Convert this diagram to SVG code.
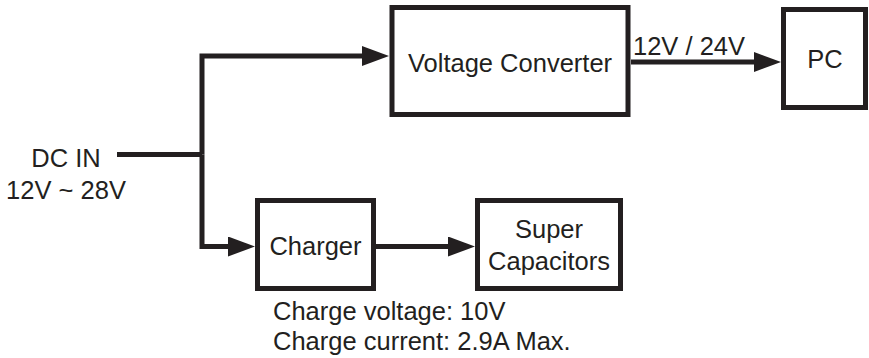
<svg xmlns="http://www.w3.org/2000/svg" width="869" height="358" viewBox="0 0 869 358">
<style>
.box{fill:#fff;stroke:#231f20;stroke-width:5}
.wire{fill:none;stroke:#231f20;stroke-width:5;stroke-linejoin:miter}
text{font-family:"Liberation Sans",Arial,sans-serif;font-size:25.5px;fill:#231f20}
.c{text-anchor:middle}
</style>
<defs>
<marker id="ah" viewBox="0 0 27 20" refX="1" refY="10" markerWidth="27" markerHeight="20" markerUnits="userSpaceOnUse" orient="auto">
<path d="M0,0 L27,10 L0,20 z" fill="#231f20"/>
</marker>
</defs>
<rect width="869" height="358" fill="#fff"/>
<g id="connectors">
<path class="wire" d="M117,154.5 H202"/>
<path class="wire" d="M202,154.5 V56 H363" marker-end="url(#ah)"/>
<path class="wire" d="M202,154.5 V246.5 H229" marker-end="url(#ah)"/>
<path class="wire" d="M376,246.5 H449" marker-end="url(#ah)"/>
<path class="wire" d="M631,62 H755" marker-end="url(#ah)"/>
<text x="633" y="55">12V / 24V</text>
</g>
<g id="dcin">
<text class="c" x="66" y="167">DC IN</text>
<text class="c" x="66" y="199">12V ~ 28V</text>
</g>
<g id="voltage-converter">
<rect class="box" x="392" y="7.5" width="236" height="107"/>
<text class="c" x="510" y="72">Voltage Converter</text>
</g>
<g id="pc">
<rect class="box" x="783.5" y="9.5" width="82" height="98"/>
<text class="c" x="825" y="68">PC</text>
</g>
<g id="charger">
<rect class="box" x="257.5" y="200.5" width="116" height="88"/>
<text class="c" x="315.5" y="255">Charger</text>
<text x="273" y="320">Charge voltage: 10V</text>
<text x="273" y="350">Charge current: 2.9A Max.</text>
</g>
<g id="super-capacitors">
<rect class="box" x="477.5" y="200.5" width="143" height="88"/>
<text class="c" x="549" y="238">Super</text>
<text class="c" x="549" y="270">Capacitors</text>
</g>
</svg>
